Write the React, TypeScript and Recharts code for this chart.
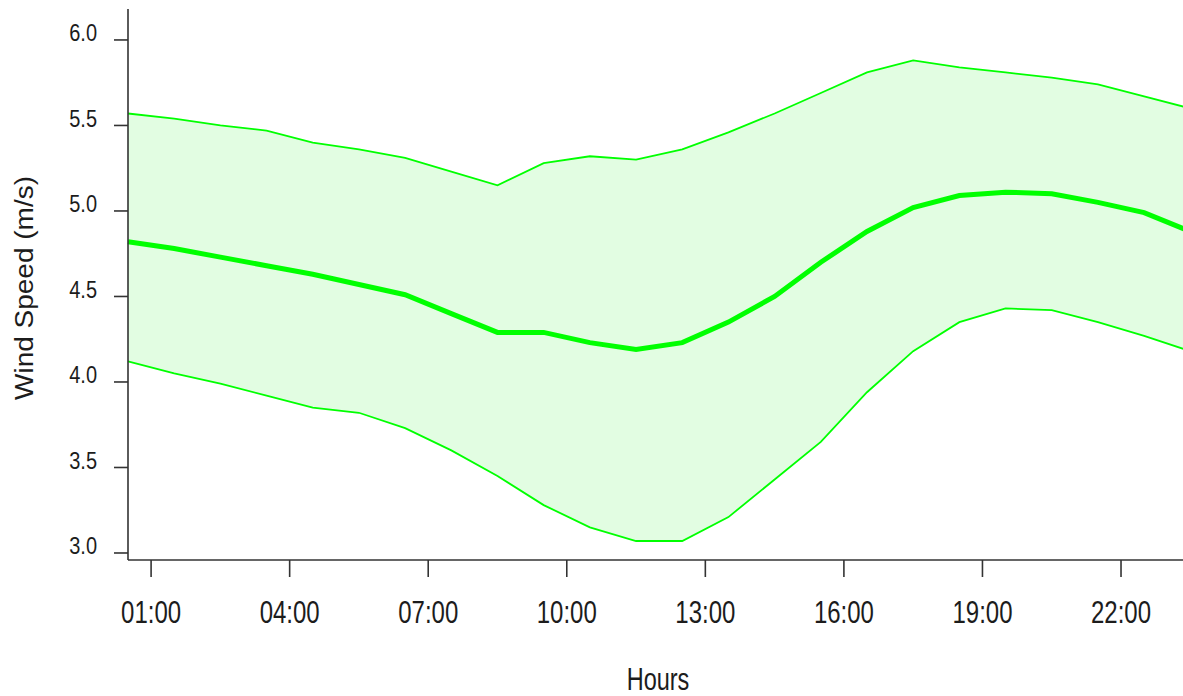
import React from "react";
import { ComposedChart, Area, Line, XAxis, YAxis } from "recharts";

// Hour of day (half-hour centres) and wind speed statistics in m/s
const hours = [0.5, 1.5, 2.5, 3.5, 4.5, 5.5, 6.5, 7.5, 8.5, 9.5, 10.5, 11.5, 12.5, 13.5, 14.5, 15.5, 16.5, 17.5, 18.5, 19.5, 20.5, 21.5, 22.5, 23.5];
const upperSpeed = [5.57, 5.54, 5.5, 5.47, 5.4, 5.36, 5.31, 5.23, 5.15, 5.28, 5.32, 5.3, 5.36, 5.46, 5.57, 5.69, 5.81, 5.88, 5.84, 5.81, 5.78, 5.74, 5.67, 5.6];
const meanSpeed = [4.82, 4.78, 4.73, 4.68, 4.63, 4.57, 4.51, 4.4, 4.29, 4.29, 4.23, 4.19, 4.23, 4.35, 4.5, 4.7, 4.88, 5.02, 5.09, 5.11, 5.1, 5.05, 4.99, 4.88];
const lowerSpeed = [4.12, 4.05, 3.99, 3.92, 3.85, 3.82, 3.73, 3.6, 3.45, 3.28, 3.15, 3.07, 3.07, 3.21, 3.43, 3.65, 3.94, 4.18, 4.35, 4.43, 4.42, 4.35, 4.27, 4.18];

const hourTicks = [1, 4, 7, 10, 13, 16, 19, 22];
const hourTickLabels = ["01:00", "04:00", "07:00", "10:00", "13:00", "16:00", "19:00", "22:00"];
const speedTicks = [3.0, 3.5, 4.0, 4.5, 5.0, 5.5, 6.0];

const data = hours.map((h, i) => ({
  hour: h,
  upper: upperSpeed[i],
  mean: meanSpeed[i],
  lower: lowerSpeed[i],
}));

const FONT = "'Liberation Sans', Arial, sans-serif";
const TEXT = "#1c1c1c";
const AXIS = "#333333";
const GREEN = "#00ff00";
const BAND = "#e2fde2";

const HourTick = (props: any) => {
  const { x, y, payload } = props;
  const idx = hourTicks.indexOf(payload.value);
  const label = idx >= 0 ? hourTickLabels[idx] : String(payload.value);
  return (
    <text
      transform={`translate(${x},${y}) scale(1,1.3)`}
      textAnchor="middle"
      fontFamily={FONT}
      fontSize={24}
      fill={TEXT}
    >
      {label}
    </text>
  );
};

const SpeedTick = (props: any) => {
  const { x, y, payload } = props;
  return (
    <text
      transform={`translate(${x},${y + 1.5}) scale(1,1.15)`}
      textAnchor="end"
      fontFamily={FONT}
      fontSize={20}
      fill={TEXT}
    >
      {Number(payload.value).toFixed(1)}
    </text>
  );
};

export default function App() {
  return (
    <div
      style={{
        position: "absolute",
        left: 0,
        top: 0,
        width: 1183,
        height: 696,
        overflow: "hidden",
        background: "#ffffff",
      }}
    >
      <ComposedChart
        width={1200}
        height={696}
        data={data}
        margin={{ top: 9, right: 9.7, bottom: 36, left: 68 }}
      >
        <XAxis
          xAxisId="bottom"
          dataKey="hour"
          type="number"
          domain={[0.5, 23.5]}
          ticks={hourTicks}
          interval={0}
          height={100}
          tickSize={17}
          tickMargin={45.5}
          axisLine={{ stroke: AXIS, strokeWidth: 1.6 }}
          tickLine={{ stroke: AXIS, strokeWidth: 1.6 }}
          tick={<HourTick />}
        />
        <XAxis
          xAxisId="top"
          orientation="top"
          dataKey="hour"
          type="number"
          domain={[0.5, 23.5]}
          height={0}
          tick={false}
          tickLine={false}
          axisLine={{ stroke: AXIS, strokeWidth: 2 }}
        />
        <YAxis
          yAxisId="left"
          type="number"
          domain={[2.959, 6.181]}
          ticks={speedTicks}
          interval={0}
          width={60}
          tickSize={14}
          tickMargin={17}
          axisLine={{ stroke: AXIS, strokeWidth: 1.6 }}
          tickLine={{ stroke: AXIS, strokeWidth: 1.6 }}
          tick={<SpeedTick />}
        />
        <YAxis
          yAxisId="right"
          orientation="right"
          type="number"
          domain={[2.959, 6.181]}
          width={0}
          tick={false}
          tickLine={false}
          axisLine={{ stroke: AXIS, strokeWidth: 1.6 }}
        />
        <Area
          xAxisId="bottom"
          yAxisId="left"
          type="linear"
          dataKey={(d: any) => [d.lower, d.upper]}
          stroke="none"
          fill={BAND}
          fillOpacity={1}
          isAnimationActive={false}
          activeDot={false}
        />
        <Line
          xAxisId="bottom"
          yAxisId="left"
          type="linear"
          dataKey="upper"
          stroke={GREEN}
          strokeWidth={1.8}
          dot={false}
          isAnimationActive={false}
        />
        <Line
          xAxisId="bottom"
          yAxisId="left"
          type="linear"
          dataKey="lower"
          stroke={GREEN}
          strokeWidth={1.8}
          dot={false}
          isAnimationActive={false}
        />
        <Line
          xAxisId="bottom"
          yAxisId="left"
          type="linear"
          dataKey="mean"
          stroke={GREEN}
          strokeWidth={5}
          dot={false}
          isAnimationActive={false}
        />
      </ComposedChart>
      <svg
        width={1183}
        height={696}
        style={{ position: "absolute", left: 0, top: 0, pointerEvents: "none" }}
      >
        <text
          transform="translate(658,690) scale(1,1.33)"
          textAnchor="middle"
          fontFamily={FONT}
          fontSize={23.5}
          fill={TEXT}
        >
          Hours
        </text>
        <text
          transform="translate(33,288) rotate(-90) scale(1.12,1)"
          textAnchor="middle"
          fontFamily={FONT}
          fontSize={25}
          fill={TEXT}
        >
          Wind Speed (m/s)
        </text>
      </svg>
    </div>
  );
}
